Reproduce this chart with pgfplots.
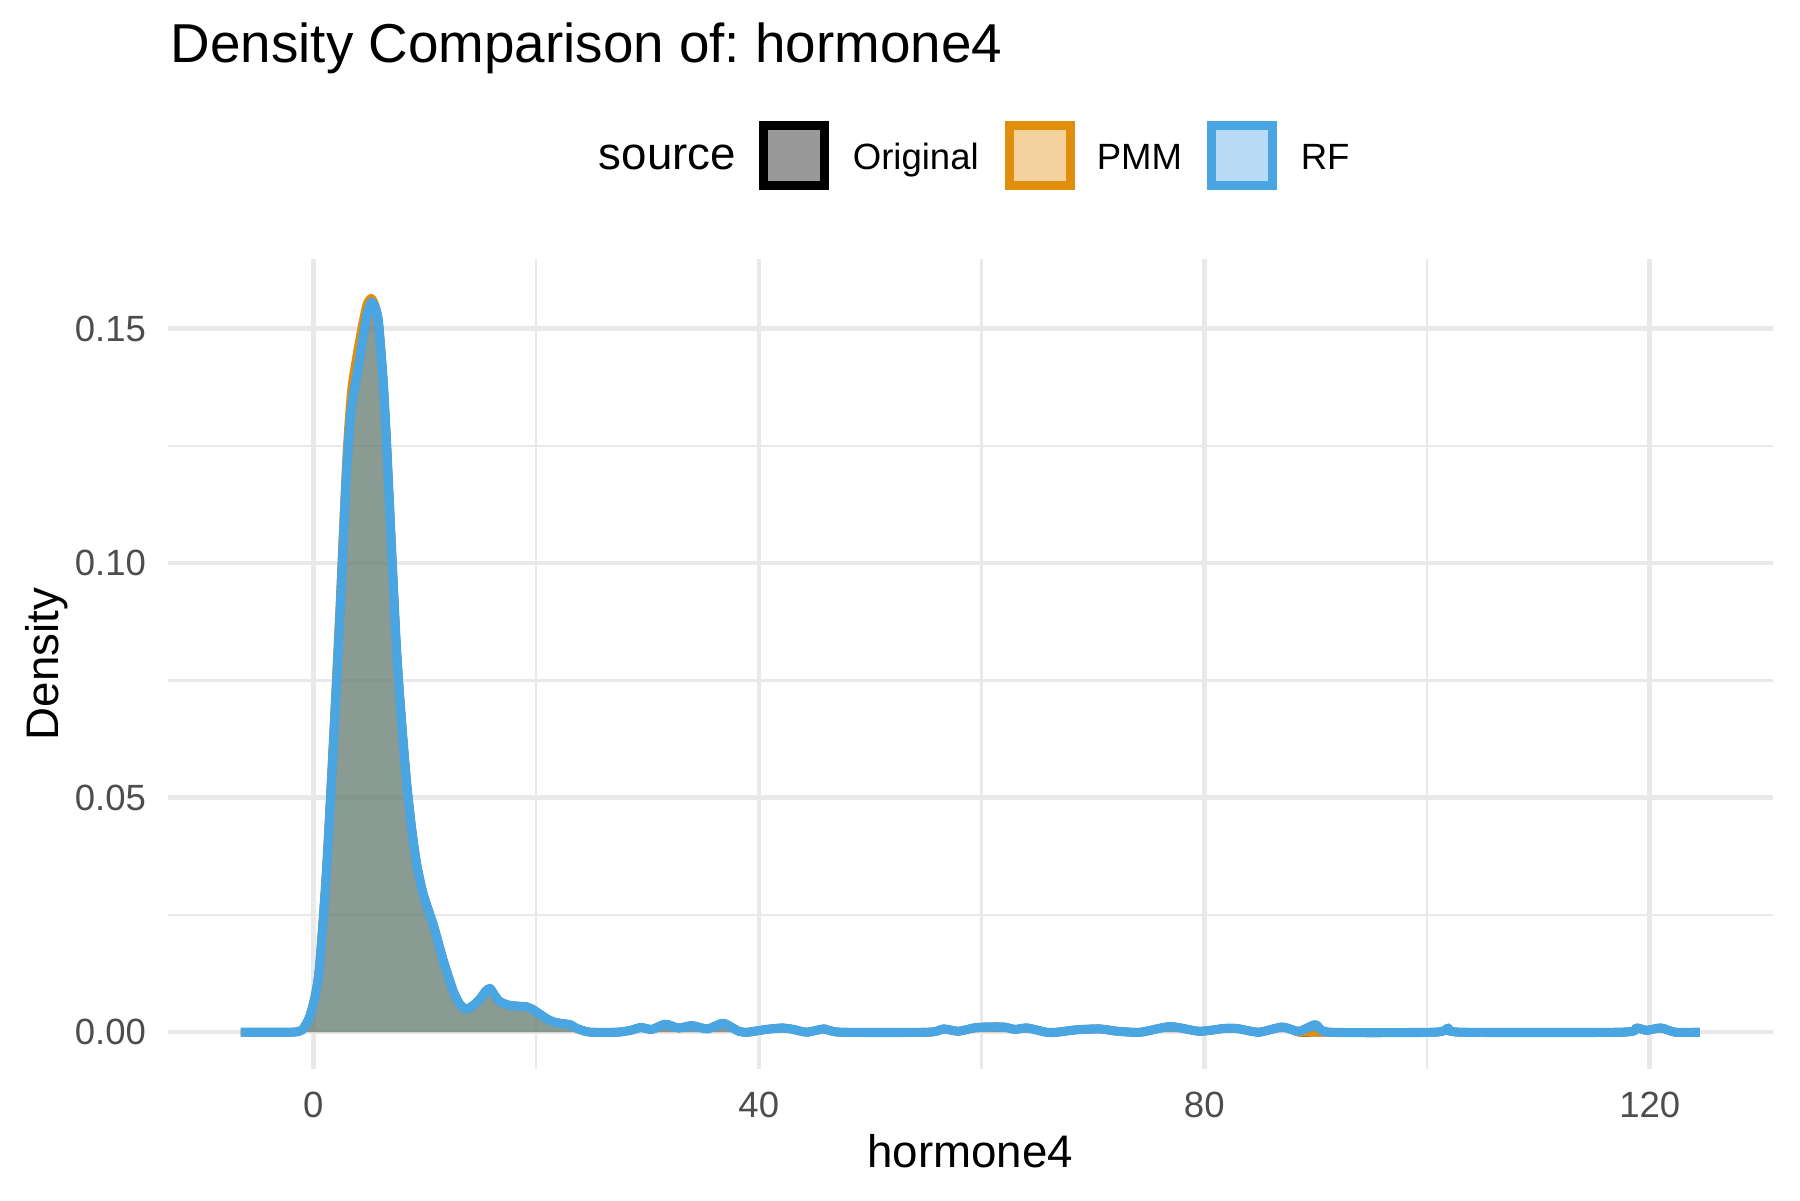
\documentclass[border=0pt]{standalone}
\usepackage{fontspec}
\setmainfont{Liberation Sans}
\usepackage{pgfplots}
\usepackage{pgfplotstable}
\pgfplotsset{compat=1.18}
\definecolor{pmm}{HTML}{E08E0B}
\definecolor{rfc}{HTML}{4AA5E3}
\definecolor{gridc}{HTML}{E9E9E9}
\definecolor{tickc}{HTML}{4D4D4D}
\newcommand\px{0.2409pt}
\frenchspacing

\pgfplotstableread{
x y
-6.5 0
-2.0 0
-1.0 0.0005
-0.33 0.0033
0.2 0.008
0.57 0.0142
1.17 0.0338
1.77 0.060
2.37 0.088
2.97 0.119
3.42 0.133
4.17 0.1438
4.77 0.1525
5.2 0.1556
5.55 0.1545
5.85 0.1515
6.27 0.139
6.57 0.126
7.02 0.1035
7.47 0.0817
7.92 0.0664
8.37 0.0534
8.82 0.0436
9.27 0.036
9.87 0.0294
10.77 0.0229
11.67 0.0153
12.57 0.0087
13.2 0.0058
13.77 0.0049
14.4 0.0058
14.97 0.0071
15.5 0.0088
15.87 0.0093
16.3 0.0078
16.77 0.0065
17.67 0.0057
19.17 0.0054
19.8 0.0047
20.37 0.0038
21.0 0.0028
21.57 0.0022
22.16 0.0019
23.07 0.0016
23.5 0.0010
24.0 0.0005
24.9 0.0000
27.3 0.0000
28.5 0.0004
29.4 0.0010
30.4 0.0006
31.6 0.0017
32.8 0.0009
34.0 0.0014
35.4 0.0007
36.8 0.0019
38.2 0.0002
39.0 0.0000
40.7 0.0006
42.1 0.0009
43.1 0.0006
44.3 0.0000
45.9 0.0007
47.3 0.0000
55.2 0.0000
56.6 0.0007
57.9 0.0002
59.3 0.0009
60.3 0.0011
62.0 0.0011
63.0 0.0006
64.1 0.0009
65.8 0.0000
66.8 0.0000
68.5 0.0005
70.6 0.0007
72.2 0.0002
74.3 0.0000
76.95 0.0012
79.55 0.0002
81.8 0.0008
82.9 0.0008
84.9 0.0000
87.0 0.0011
88.5 0.0002
90.0 0.0016
91.3 0.0000
100.7 0.0000
101.9 0.0009
103.0 0.0000
117.5 0.0000
118.8 0.0009
119.7 0.0004
121.0 0.0009
122.3 0.0000
124.5 0.0000
}\rfdata

\pgfplotstableread{
x y
-6.5 0
-2.0 0
-1.0 0.0005
-0.33 0.0034
0.2 0.0085
0.57 0.0148
1.17 0.0350
1.77 0.062
2.37 0.091
2.97 0.122
3.42 0.137
4.17 0.148
4.77 0.155
5.2 0.1565
5.55 0.1550
5.85 0.1515
6.27 0.139
6.57 0.126
7.02 0.1035
7.47 0.0817
7.92 0.0664
8.37 0.0534
8.82 0.0436
9.27 0.036
9.87 0.0294
10.77 0.0229
11.67 0.0153
12.57 0.0087
13.2 0.0058
13.77 0.0049
14.4 0.0058
14.97 0.0071
15.5 0.0088
15.87 0.0093
16.3 0.0078
16.77 0.0065
17.67 0.0057
19.17 0.0054
19.8 0.0047
20.37 0.0038
21.0 0.0028
21.57 0.0022
22.16 0.0019
23.07 0.0016
23.5 0.0010
24.0 0.0005
24.9 0.0000
27.3 0.0000
28.5 0.0004
29.4 0.0010
30.4 0.0006
31.6 0.0017
32.8 0.0009
34.0 0.0014
35.4 0.0007
36.8 0.0019
38.2 0.0002
39.0 0.0000
40.7 0.0006
42.1 0.0009
43.1 0.0006
44.3 0.0000
45.9 0.0007
47.3 0.0000
55.2 0.0000
56.6 0.0007
57.9 0.0002
59.3 0.0009
60.3 0.0011
62.0 0.0011
63.0 0.0006
64.1 0.0009
65.8 0.0000
66.8 0.0000
68.5 0.0005
70.6 0.0007
72.2 0.0002
74.3 0.0000
76.95 0.0012
79.55 0.0002
81.8 0.0008
82.9 0.0008
84.9 0.0000
87.0 0.0011
88.5 0.0000
90.0 0.0000
91.3 0.0000
100.7 0.0000
101.9 0.0009
103.0 0.0000
117.5 0.0000
118.8 0.0009
119.7 0.0004
121.0 0.0009
122.3 0.0000
124.5 0.0000
}\pmmdata

\pgfplotstableread{
x y
-6.5 0
-2.0 0
-1.0 0.0005
-0.33 0.0033
0.2 0.008
0.57 0.0142
1.17 0.0338
1.77 0.060
2.37 0.088
2.97 0.119
3.42 0.133
4.17 0.1438
4.77 0.1525
5.2 0.1556
5.55 0.1545
5.85 0.1515
6.27 0.139
6.57 0.126
7.02 0.1035
7.47 0.0817
7.92 0.0664
8.37 0.0534
8.82 0.0436
9.27 0.036
9.87 0.0294
10.77 0.0229
11.67 0.0153
12.57 0.0087
13.2 0.0058
13.77 0.0049
14.4 0.0058
14.97 0.0071
15.5 0.0088
15.87 0.0093
16.3 0.0078
16.77 0.0065
17.67 0.0057
19.17 0.0054
19.8 0.0047
20.37 0.0038
21.0 0.0028
21.57 0.0022
22.16 0.0019
23.07 0.0016
23.5 0.0010
24.0 0.0005
24.9 0.0000
27.3 0.0000
28.5 0.0004
29.4 0.0010
30.4 0.0006
31.6 0.0017
32.8 0.0009
34.0 0.0014
35.4 0.0007
36.8 0.0019
38.2 0.0002
39.0 0.0000
40.7 0.0006
42.1 0.0009
43.1 0.0006
44.3 0.0000
45.9 0.0007
47.3 0.0000
55.2 0.0000
56.6 0.0007
57.9 0.0002
59.3 0.0009
60.3 0.0011
62.0 0.0011
63.0 0.0006
64.1 0.0009
65.8 0.0000
66.8 0.0000
68.5 0.0005
70.6 0.0007
72.2 0.0002
74.3 0.0000
76.95 0.0012
79.55 0.0002
81.8 0.0008
82.9 0.0008
84.9 0.0000
87.0 0.0011
88.5 0.0000
90.0 0.0000
91.3 0.0000
100.7 0.0000
101.9 0.0009
103.0 0.0000
117.5 0.0000
118.8 0.0009
119.7 0.0004
121.0 0.0009
122.3 0.0000
124.5 0.0000
}\origdata

\begin{document}
\begin{tikzpicture}
\useasboundingbox (-168*\px,-131*\px) rectangle (1632*\px,1069*\px);
\begin{axis}[
  scale only axis,
  width=386.6pt, height=195.1pt,
  xmin=-13.05, xmax=131.05,
  ymin=-0.00785, ymax=0.1648,
  axis line style={draw=none},
  major tick length=0pt, minor tick length=0pt,
  tick style={draw=none},
  xtick={0,40,80,120},
  minor xtick={20,60,100},
  ytick={0,0.05,0.10,0.15},
  minor ytick={0.025,0.075,0.125},
  grid=both,
  major grid style={draw=gridc, line width=1.1pt},
  minor grid style={draw=gridc, line width=0.55pt},
  /pgf/number format/assume math mode=true,
  yticklabel style={/pgf/number format/fixed, /pgf/number format/fixed zerofill, /pgf/number format/precision=2, anchor=east, inner sep=0pt, xshift=-5.1pt, font=\fontsize{8.8}{10}\selectfont, text=tickc},
  scaled y ticks=false,
  xticklabel style={anchor=base, inner sep=0pt, yshift=-11.6pt, font=\fontsize{8.8}{10}\selectfont, text=tickc},
  xlabel={hormone4},
  ylabel={Density},
  xlabel style={at={(axis description cs:0.5,-0.1215)}, anchor=base, inner sep=0pt, font=\fontsize{11}{13}\selectfont},
  ylabel style={at={(axis description cs:-0.0685,0.5)}, anchor=base, inner sep=0pt, font=\fontsize{11}{13}\selectfont},
  clip=false,
]
\addplot[draw=none, fill=black, fill opacity=0.4, smooth, tension=0.4] table {\origdata} \closedcycle;
\addplot[black, line width=2.0pt, smooth, tension=0.4, line join=round] table {\origdata};
\addplot[draw=none, fill=pmm, fill opacity=0.4, smooth, tension=0.4] table {\pmmdata} \closedcycle;
\addplot[pmm, line width=2.0pt, smooth, tension=0.4, line join=round] table {\pmmdata};
\addplot[draw=none, fill=rfc, fill opacity=0.4, smooth, tension=0.4] table {\rfdata} \closedcycle;
\addplot[rfc, line width=2.2pt, smooth, tension=0.4, line join=round] table {\rfdata};
\end{axis}
% title
\node[anchor=base west, inner sep=0pt, font=\fontsize{13.2}{15}\selectfont] at (2*\px,1006*\px) {Density Comparison of: hormone4};
% legend
\node[anchor=base west, inner sep=0pt, font=\fontsize{11}{13}\selectfont] at (430*\px,900*\px) {source};
\draw[line width=2.1pt, draw=black, fill=black, fill opacity=0.4] (595.4*\px,883.4*\px) rectangle (656.6*\px,943.6*\px);
\node[anchor=base west, inner sep=0pt, font=\fontsize{8.8}{10}\selectfont] at (684*\px,900*\px) {Original};
\draw[line width=2.1pt, draw=pmm, fill=pmm, fill opacity=0.4] (841.4*\px,883.4*\px) rectangle (902.6*\px,943.6*\px);
\node[anchor=base west, inner sep=0pt, font=\fontsize{8.8}{10}\selectfont] at (928*\px,900*\px) {PMM};
\draw[line width=2.1pt, draw=rfc, fill=rfc, fill opacity=0.4] (1043.4*\px,883.4*\px) rectangle (1104.6*\px,943.6*\px);
\node[anchor=base west, inner sep=0pt, font=\fontsize{8.8}{10}\selectfont] at (1132*\px,900*\px) {RF};
\end{tikzpicture}
\end{document}
